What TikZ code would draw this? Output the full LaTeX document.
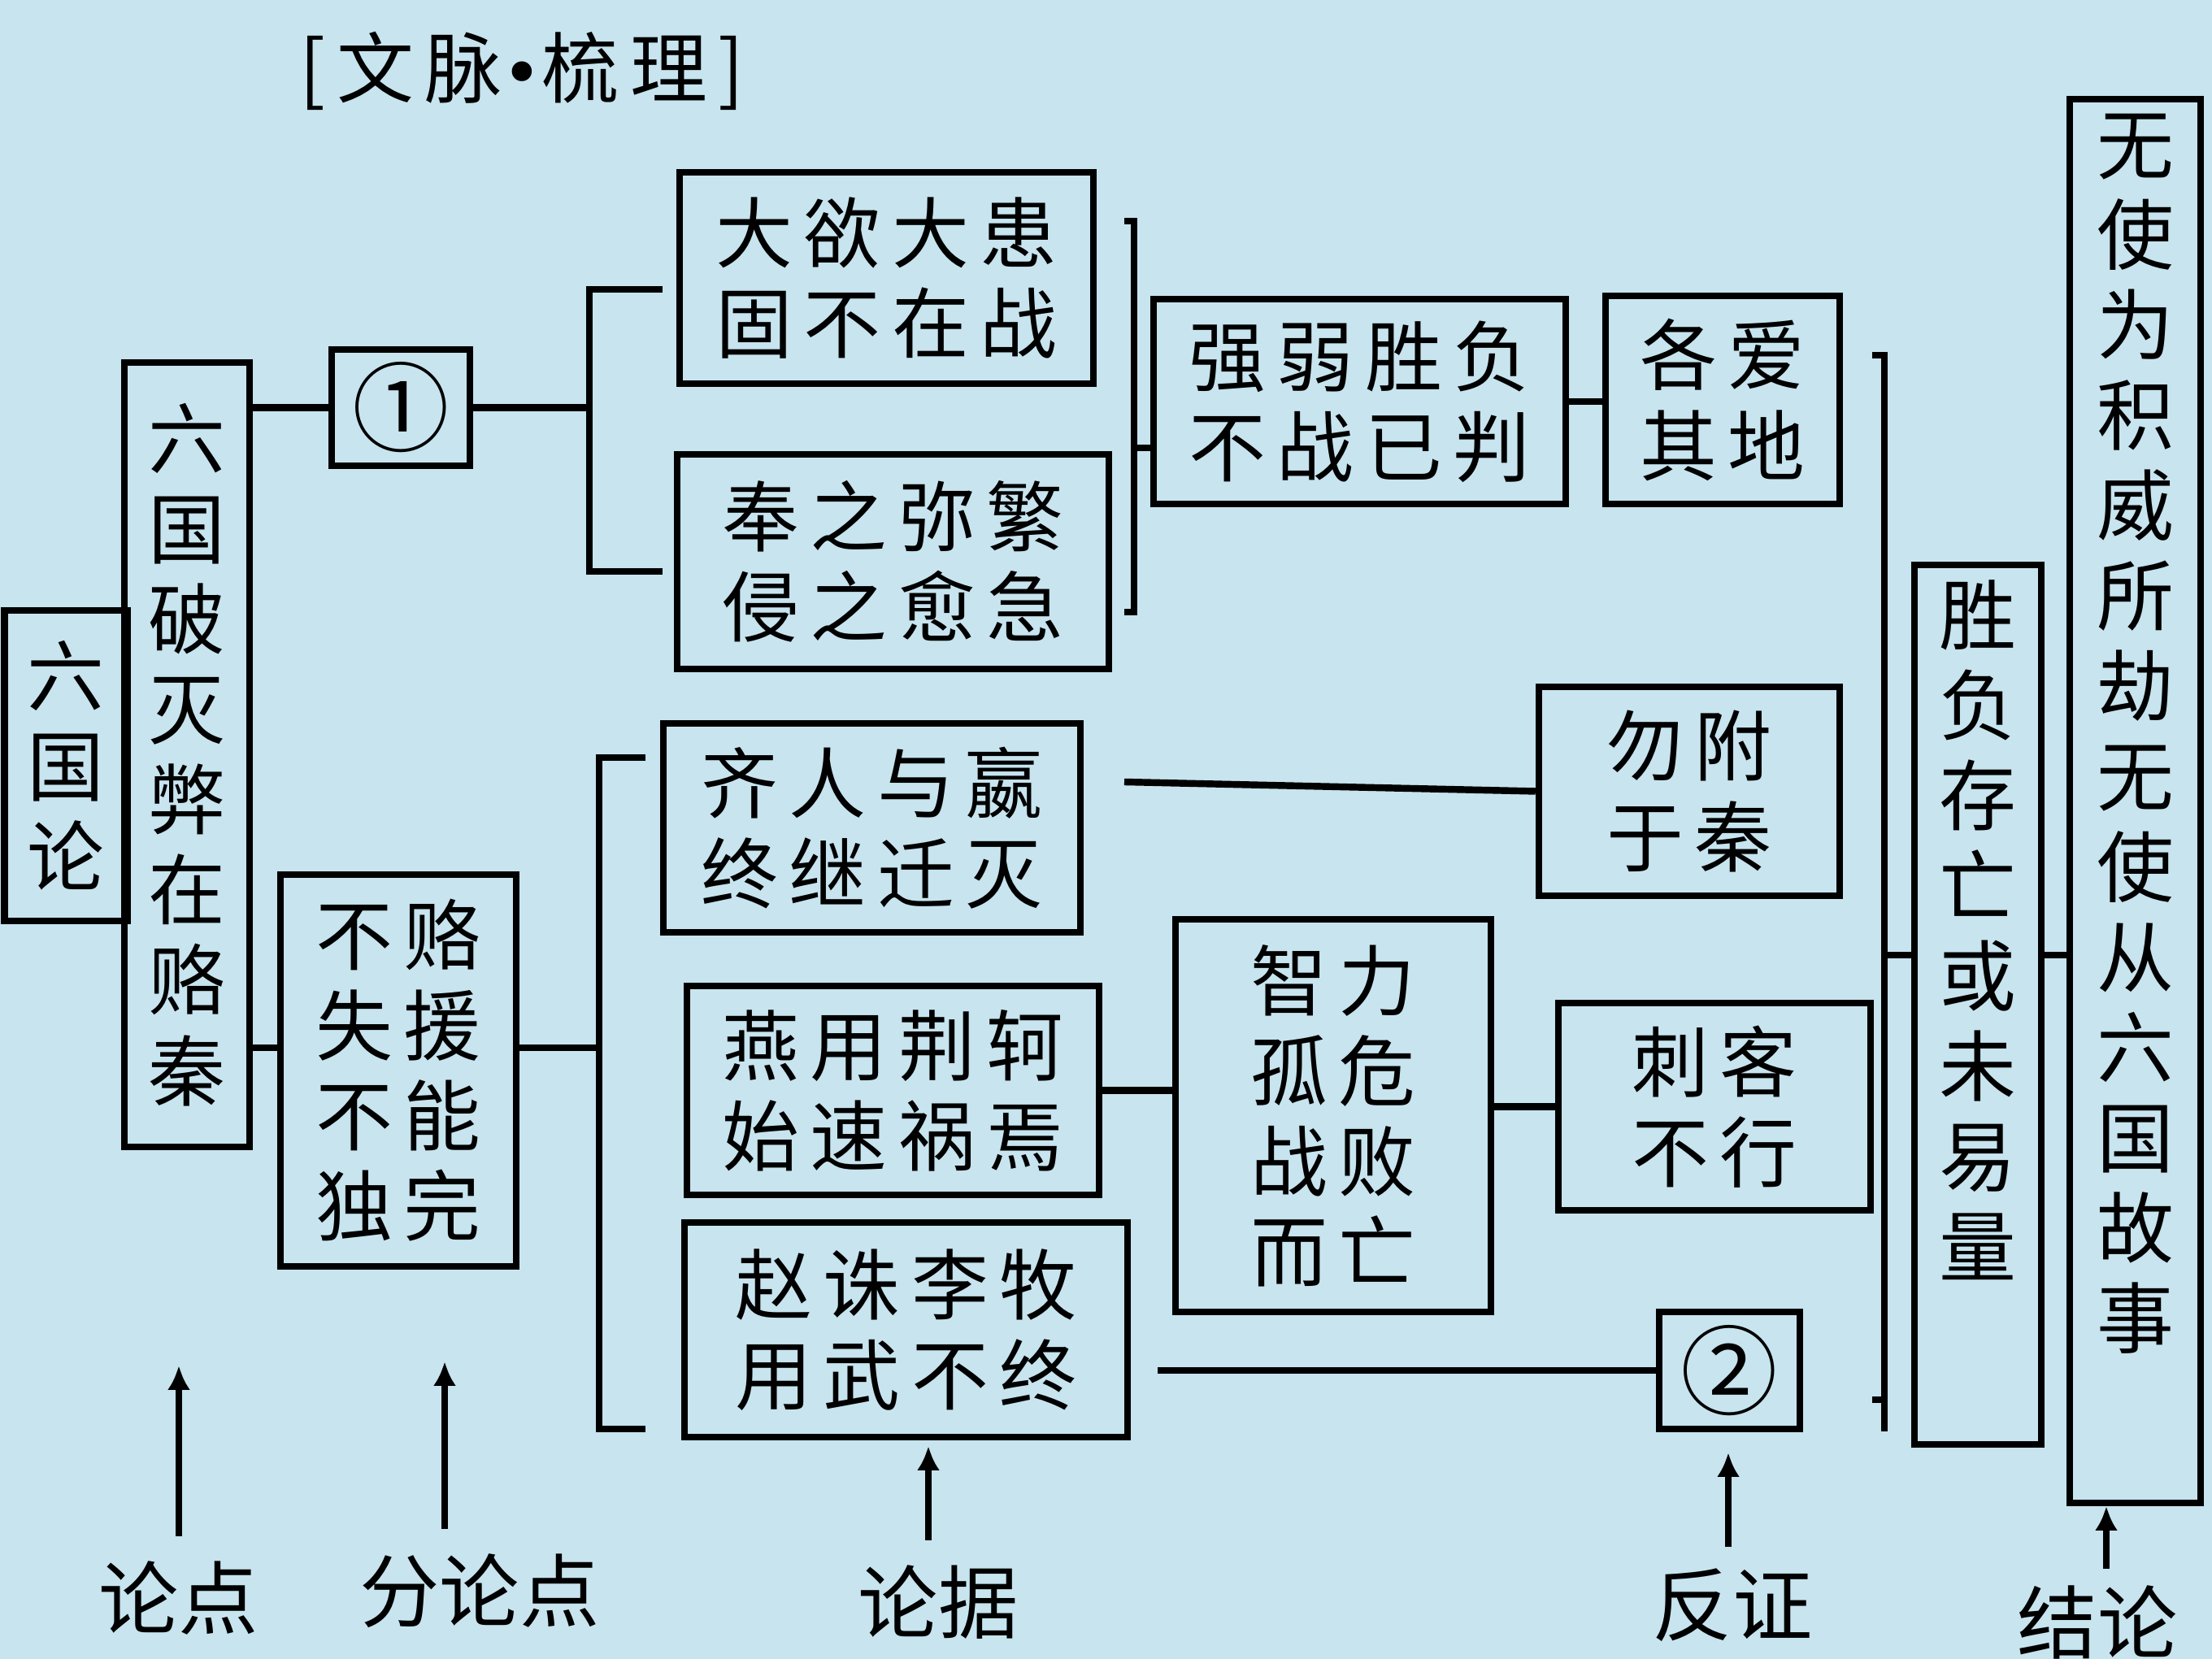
\documentclass[tikz,border=0pt]{standalone}
\usepackage{fontspec}
\usepackage{tikz}
\usetikzlibrary{arrows.meta, positioning}

\newfontfamily\kai{Noto Sans CJK SC}
\newfontfamily\kaisp[LetterSpace=14]{Noto Sans CJK SC}
\newfontfamily\dotfont{DejaVu Sans}
\definecolor{bgblue}{RGB}{199,228,239}

\begin{document}
\begin{tikzpicture}[
    >={Latex[length=0.3cm,width=0.28cm]},
    conn/.style={line width=2.4pt},
    uparrow/.style={line width=2.4pt, ->},
    txtbox/.style={draw, line width=2.4pt, inner sep=0pt, align=center,
        font=\kaisp\fontsize{27pt}{31.6pt}\selectfont},
    vtxtbox/.style={txtbox, font=\kai\fontsize{27pt}{31.6pt}\selectfont},
    numbox/.style={txtbox, font=\kai\fontsize{34pt}{40pt}\selectfont},
    tagtxt/.style={inner sep=0pt, font=\kai\fontsize{28pt}{32pt}\selectfont}
  ]
  % Background
  \fill[bgblue] (0,0) rectangle (27.21,20.41);
  \useasboundingbox (0,0) rectangle (27.21,20.41);

  % Title
  \node[tagtxt, font=\kaisp\fontsize{27pt}{31pt}\selectfont] (title) at (6.42,19.54) {[文脉{\dotfont\fontsize{24pt}{28pt}\selectfont •}梳理]};

  % Left column
  \node[vtxtbox, minimum width=1.51cm, minimum height=3.82cm] (liuguolun) at (0.81,10.99) {六\\国\\论};
  \node[vtxtbox, minimum width=1.54cm, minimum height=9.65cm] (pomie) at (2.30,11.125) {六\\国\\破\\灭\\弊\\在\\赂\\秦};
  \node[numbox, minimum width=1.70cm, minimum height=1.43cm] (one) at (4.93,15.395) {①};
  \node[txtbox, minimum width=2.90cm, minimum height=4.82cm] (bulu) at (4.90,7.24) {不赂\\失援\\不能\\独完};

  % Upper branch
  \node[txtbox, minimum width=5.09cm, minimum height=2.60cm] (dayu) at (10.905,16.99) {大欲大患\\固不在战};
  \node[txtbox, minimum width=5.31cm, minimum height=2.64cm] (fengzhi) at (10.985,13.50) {奉之弥繁\\侵之愈急};
  \node[txtbox, minimum width=5.07cm, minimum height=2.52cm] (qiangruo) at (16.725,15.47) {强弱胜负\\不战已判};
  \node[txtbox, minimum width=2.88cm, minimum height=2.56cm] (geai) at (21.19,15.49) {各爱\\其地};

  % Lower branch
  \node[txtbox, minimum width=5.13cm, minimum height=2.57cm] (qiren) at (10.725,10.225) {齐人与嬴\\终继迁灭};
  \node[txtbox, minimum width=3.70cm, minimum height=2.57cm] (wufu) at (20.78,10.675) {勿附\\于秦};
  \node[txtbox, minimum width=5.07cm, minimum height=2.57cm] (yanyong) at (10.985,6.995) {燕用荆轲\\始速祸焉};
  \node[txtbox, minimum width=3.88cm, minimum height=4.83cm] (zhili) at (16.40,6.685) {智力\\孤危\\战败\\而亡};
  \node[txtbox, minimum width=3.84cm, minimum height=2.55cm] (cike) at (21.09,6.795) {刺客\\不行};
  \node[txtbox, minimum width=5.45cm, minimum height=2.64cm] (zhaozhu) at (11.145,4.05) {赵诛李牧\\用武不终};
  \node[numbox, minimum width=1.73cm, minimum height=1.44cm] (two) at (21.275,3.55) {②};

  % Right columns
  \node[draw, line width=2.4pt, minimum width=1.56cm, minimum height=10.82cm, anchor=north] (shengfu) at (24.33,13.50) {};
  \node[vtxtbox, draw=none, anchor=north] (shengfuTxt) at ([yshift=-0.18cm]shengfu.north) {胜\\负\\存\\亡\\或\\未\\易\\量};
  \node[draw, line width=2.4pt, minimum width=1.61cm, minimum height=17.27cm, anchor=north] (wushi) at (26.265,19.23) {};
  \node[vtxtbox, draw=none, anchor=north] (wushiTxt) at ([yshift=-0.18cm]wushi.north) {无\\使\\为\\积\\威\\所\\劫\\无\\使\\从\\六\\国\\故\\事};

  % Bracket corners and levels
  \coordinate (b1top) at (7.25,16.85);
  \coordinate (b1bot) at (7.25,13.38);
  \coordinate (b2topL) at (13.83,17.69);
  \coordinate (b2top) at (13.95,17.69);
  \coordinate (b2bot) at (13.95,12.88);
  \coordinate (b2botL) at (13.83,12.88);
  \coordinate (b2mid) at (13.95,14.90);
  \coordinate (b3topL) at (23.03,16.04);
  \coordinate (b3top) at (23.18,16.04);
  \coordinate (b3bot) at (23.18,2.80);
  \coordinate (b3botL) at (23.03,3.19);
  \coordinate (b3mid) at (23.18,8.66);
  \coordinate (b4top) at (7.37,11.09);
  \coordinate (b4bot) at (7.37,2.83);
  \coordinate (b4mid) at (7.37,7.52);
  \coordinate (qline) at (13.83,10.79);

  % Upper connectors
  \draw[conn] (pomie.east |- one.west) -- (one.west);
  \draw[conn] (one.east) -- (one.east -| b1top);
  \draw[conn, shorten <=0.17cm, shorten >=0.14cm] (dayu.west |- b1top) -- (b1top) -- (b1bot) -- (fengzhi.west |- b1bot);
  \draw[conn] (b2topL) -- (b2top) -- (b2bot) -- (b2botL);
  \draw[conn] (b2mid) -- (qiangruo.west |- b2mid);
  \draw[conn] (qiangruo.east) -- (geai.west |- qiangruo.east);

  % Lower connectors
  \draw[conn] (pomie.east |- b4mid) -- (bulu.west |- b4mid);
  \draw[conn] (bulu.east |- b4mid) -- (b4mid);
  \draw[conn, shorten <=0.18cm, shorten >=0.44cm] (qiren.west |- b4top) -- (b4top) -- (b4bot) -- (zhaozhu.west |- b4bot);
  \draw[conn] (qline) -- (wufu.west);
  \draw[conn] (yanyong.east) -- (zhili.west |- yanyong.east);
  \draw[conn] (zhili.east |- cike.west) -- (cike.west);
  \draw[conn, shorten <=0.33cm] (zhaozhu.east |- two.west) -- (two.west);

  % Right bracket
  \draw[conn] (b3topL) -- (b3top) -- (b3bot);
  \draw[conn] (b3botL) -- (b3botL -| b3top);
  \draw[conn] (b3mid) -- (shengfu.west |- b3mid);
  \draw[conn] (shengfu.east |- b3mid) -- (wushi.west |- b3mid);

  % Bottom labels
  \node[tagtxt] (lundian) at (2.20,0.75) {论点};
  \node[tagtxt] (fenlun) at (5.90,0.84) {分论点};
  \node[tagtxt] (lunju) at (11.54,0.70) {论据};
  \node[tagtxt] (fanzheng) at (21.31,0.66) {反证};
  \node[tagtxt] (jielun) at (25.80,0.45) {结论};

  \coordinate (lundianTip) at (2.20,3.61);
  \coordinate (fenlunTip) at (5.47,3.66);
  \coordinate (lunjuTip) at (11.42,2.62);
  \coordinate (fanzhengTip) at (21.26,2.54);
  \coordinate (jielunTip) at (25.91,1.88);

  \draw[uparrow, shorten <=0.3cm] (lundian.north -| lundianTip) -- (lundianTip);
  \draw[uparrow, shorten <=0.3cm] (fenlun.north -| fenlunTip) -- (fenlunTip);
  \draw[uparrow, shorten <=0.3cm] (lunju.north -| lunjuTip) -- (lunjuTip);
  \draw[uparrow, shorten <=0.26cm] (fanzheng.north -| fanzhengTip) -- (fanzhengTip);
  \draw[uparrow, shorten <=0.2cm] (jielun.north -| jielunTip) -- (jielunTip);
\end{tikzpicture}
\end{document}
